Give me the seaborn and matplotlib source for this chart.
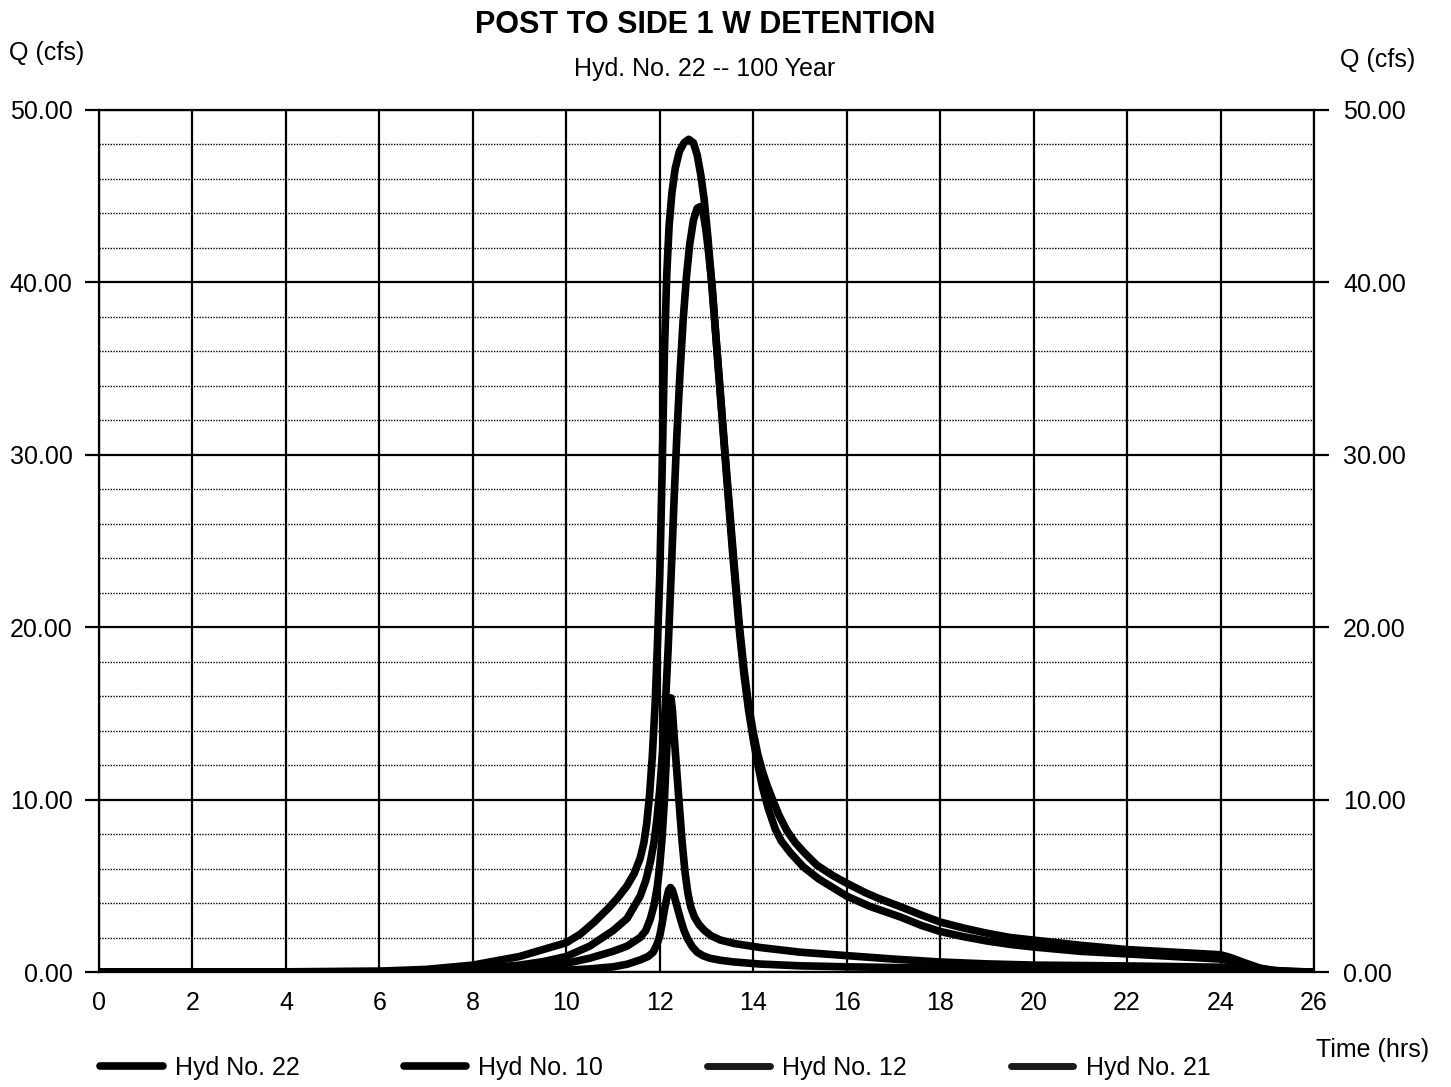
import numpy as np
import pandas as pd
import matplotlib
matplotlib.use("Agg")
import matplotlib.pyplot as plt
from matplotlib.lines import Line2D
from matplotlib.ticker import FormatStrFormatter
import seaborn as sns

# ---- hydrograph data: time (hrs) and discharge Q (cfs) ----
labels = ["Hyd No. 22", "Hyd No. 10", "Hyd No. 12", "Hyd No. 21"]

t22 = [0, 2, 4, 6, 7, 8, 9, 10, 10.3, 10.6, 10.9, 11.1, 11.3, 11.45, 11.58, 11.66,
       11.72, 11.78, 11.84, 11.9, 11.95, 12.0, 12.05, 12.1, 12.15, 12.2, 12.26, 12.33,
       12.42, 12.52, 12.62, 12.72, 12.8, 12.88, 12.95, 13.03, 13.1, 13.25, 13.4, 13.55,
       13.7, 13.8, 13.9, 14.0, 14.1, 14.2, 14.3, 14.4, 14.55, 14.72, 14.9, 15.1, 15.36,
       15.7, 16.0, 16.4, 16.7, 17.14, 17.6, 18, 18.5, 19, 19.5, 20, 21, 22, 23, 24,
       24.2, 24.5, 24.85, 25.1, 25.5, 26]
q22 = [0, 0, 0.01, 0.05, 0.15, 0.4, 0.9, 1.7, 2.2, 2.9, 3.7, 4.3, 5.0, 5.7, 6.6, 7.5,
       8.6, 10.2, 12.5, 15.5, 19.0, 23.0, 29.0, 36.0, 40.5, 43.3, 45.2, 46.6,
       47.6, 48.1, 48.3, 48.1, 47.4, 46.2, 44.8, 42.6, 40.3, 35.2, 30.0, 25.0,
       20.2, 17.6, 15.5, 13.9, 12.6, 11.6, 10.8, 10.1, 9.1, 8.2, 7.5, 6.9, 6.2,
       5.6, 5.15, 4.6, 4.25, 3.8, 3.3, 2.9, 2.55, 2.25, 2.0, 1.85, 1.55, 1.3, 1.15, 1.0,
       0.85, 0.55, 0.22, 0.1, 0.03, 0]

t10 = [0, 4, 6, 7, 8, 9, 9.5, 10, 10.5, 11.0, 11.3, 11.58, 11.7, 11.8, 11.88, 11.94,
       12.0, 12.06, 12.12, 12.18, 12.24, 12.3, 12.36, 12.43, 12.5, 12.57, 12.64, 12.72,
       12.8, 12.87, 12.93, 12.99, 13.05, 13.12, 13.25, 13.4, 13.55, 13.7, 13.8, 13.9,
       14.0, 14.1, 14.2, 14.32, 14.47, 14.6, 14.8, 15.07, 15.4, 15.7, 16.0, 16.5,
       17.14, 17.6, 18, 18.5, 19, 19.5, 20, 21, 22, 23, 24, 24.3, 24.6, 24.9, 25.2,
       25.6, 26]
q10 = [0, 0, 0.02, 0.06, 0.15, 0.4, 0.6, 0.9, 1.5, 2.4, 3.1, 4.4, 5.3, 6.4, 7.6, 8.9,
       10.6, 12.8, 15.5, 18.8, 22.8, 27.0, 30.8, 34.6, 37.8, 40.3, 42.2, 43.6,
       44.3, 44.4, 44.0, 43.0, 41.6, 39.8, 35.1, 29.8, 24.6, 19.9, 17.3, 15.2,
       13.5, 12.0, 10.7, 9.5, 8.3, 7.6, 6.9, 6.1, 5.4, 4.9, 4.4, 3.8,
       3.2, 2.7, 2.35, 2.05, 1.8, 1.6, 1.45, 1.2, 1.05, 0.9, 0.75, 0.6, 0.38, 0.18, 0.07,
       0.02, 0]

t12 = [0, 6, 8, 9, 10, 10.5, 11.0, 11.3, 11.58, 11.7, 11.8, 11.88, 11.95, 12.0, 12.05,
       12.1, 12.14, 12.18, 12.21, 12.24, 12.27, 12.31, 12.36, 12.42, 12.48, 12.54, 12.6,
       12.66, 12.74, 12.84, 12.96, 13.1, 13.3, 13.6, 14.15, 15, 16, 17, 18, 19, 20, 22,
       24, 24.4, 24.85, 25.3, 26]
q12 = [0, 0.01, 0.08, 0.2, 0.5, 0.8, 1.2, 1.5, 2.0, 2.4, 3.1, 3.9, 5.0, 6.2, 7.8,
       10.0, 12.4, 14.6, 15.7, 15.9, 15.2, 13.6, 11.8, 9.6, 7.5, 5.8, 4.6,
       3.8, 3.2, 2.75, 2.4, 2.1, 1.85, 1.65, 1.42, 1.15, 0.95, 0.75, 0.58, 0.47, 0.4, 0.35,
       0.28, 0.2, 0.08, 0.02, 0]

t21 = [0, 8, 9, 10, 10.5, 11, 11.3, 11.58, 11.75, 11.86, 11.94, 12.0, 12.05, 12.1, 12.15,
       12.19, 12.23, 12.27, 12.32, 12.38, 12.45, 12.52, 12.6, 12.7, 12.8, 12.92, 13.07,
       13.3, 13.6, 14.15, 15, 16, 18, 20, 22, 24, 24.5, 25, 26]
q21 = [0, 0.02, 0.05, 0.1, 0.18, 0.3, 0.45, 0.7, 0.9, 1.15, 1.6, 2.1, 2.8, 3.6, 4.3,
       4.75, 4.9, 4.75, 4.3, 3.7, 3.0, 2.4, 1.9, 1.45, 1.15, 0.95, 0.8,
       0.68, 0.58, 0.46, 0.36, 0.3, 0.22, 0.18, 0.15, 0.12, 0.08, 0.04, 0]

x_ticks = list(range(0, 27, 2))
y_major = [0, 10, 20, 30, 40, 50]

frames = []
for name, t, q in zip(labels, [t22, t10, t12, t21], [q22, q10, q12, q21]):
    frames.append(pd.DataFrame({"time": t, "flow": q, "hyd": name}))
df = pd.concat(frames, ignore_index=True)

sns.set_style("white")
plt.rcParams["font.family"] = ["Liberation Sans", "DejaVu Sans"]
plt.rcParams["text.color"] = "black"
plt.rcParams["xtick.color"] = "black"
plt.rcParams["ytick.color"] = "black"
plt.rcParams["axes.labelcolor"] = "black"

fig = plt.figure(figsize=(14.51, 10.87), dpi=100)
ax = fig.add_axes([99 / 1451, 1 - 972 / 1087, (1314 - 99) / 1451, (972 - 110) / 1087])

# grid: solid verticals every 2 hrs, solid horizontals every 10 cfs, dotted every 2 cfs
for yv in np.arange(2, 50, 2):
    if yv % 10 != 0:
        ax.axhline(yv, color="black", lw=1.0, ls=(0, (1, 1)), zorder=1)
for yv in y_major:
    ax.axhline(yv, color="black", lw=1.6, zorder=1.5)
for xv in x_ticks:
    ax.axvline(xv, color="black", lw=1.6, zorder=1.5)

sns.lineplot(data=df, x="time", y="flow", hue="hyd", palette=["black"] * 4,
             linewidth=5.5, legend=False, sort=False, estimator=None, ax=ax, zorder=3)
for ln in ax.get_lines()[-4:]:
    ln.set_solid_joinstyle("round")
    ln.set_solid_capstyle("round")

ax.set_xlim(0, 26)
ax.set_ylim(0, 50)
ax.set_xticks(x_ticks)
ax.set_yticks(y_major)
ax.yaxis.set_major_formatter(FormatStrFormatter("%.2f"))
ax.set_xlabel("")
ax.set_ylabel("")
ax.tick_params(axis="x", length=0, pad=14, labelsize=18)
ax.tick_params(axis="y", length=10, width=1.6, pad=9, labelsize=18, direction="out", left=True)
for s in ax.spines.values():
    s.set_color("black")
    s.set_linewidth(1.6)

ax2 = ax.twinx()
ax2.set_ylim(0, 50)
ax2.set_yticks(y_major)
ax2.yaxis.set_major_formatter(FormatStrFormatter("%.2f"))
ax2.tick_params(axis="y", length=11, width=1.6, pad=10, labelsize=18, direction="out", right=True)
for s in ax2.spines.values():
    s.set_visible(False)

fig.text(705 / 1451, 1 - 25 / 1087, "POST TO SIDE 1 W DETENTION", ha="center", va="center",
         fontsize=22, fontweight="bold")
fig.text(705 / 1451, 1 - 69 / 1087, "Hyd. No. 22 -- 100 Year", ha="center", va="center", fontsize=18)
fig.text(47 / 1451, 1 - 53 / 1087, "Q (cfs)", ha="center", va="center", fontsize=18)
fig.text(1378 / 1451, 1 - 60 / 1087, "Q (cfs)", ha="center", va="center", fontsize=18)
fig.text(1373 / 1451, 1 - 1050 / 1087, "Time (hrs)", ha="center", va="center", fontsize=18)

handles = [Line2D([], [], color="black", lw=5.5),
           Line2D([], [], color="black", lw=5.5),
           Line2D([], [], color="#1a1a1a", lw=5),
           Line2D([], [], color="#1a1a1a", lw=5)]
fig.legend(handles, labels, loc="center left", bbox_to_anchor=(100 / 1451, 1 - 1068 / 1087),
           ncol=4, frameon=False, fontsize=18, handlelength=2.5, handletextpad=0.5,
           columnspacing=4.15, borderpad=0, borderaxespad=0)

fig.savefig("out.png", dpi=100)
